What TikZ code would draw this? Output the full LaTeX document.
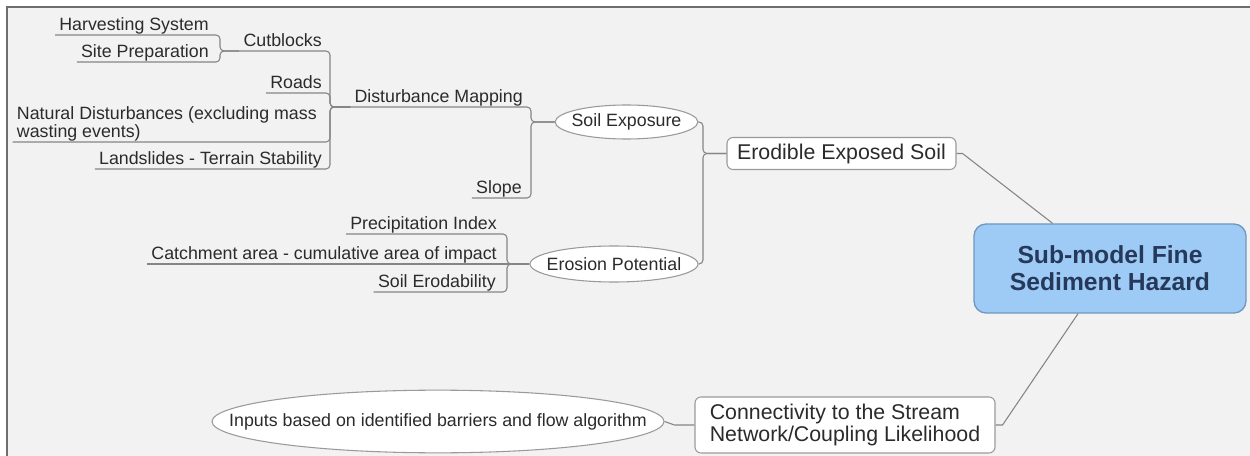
\documentclass[tikz,border=0pt]{standalone}
\usepackage{fontspec}
\setmainfont{Liberation Sans}
\usetikzlibrary{shapes.geometric,calc}

\definecolor{bgpaper}{HTML}{F2F2F2}
\definecolor{frameline}{HTML}{6E6E6E}
\definecolor{wiregray}{HTML}{858585}
\definecolor{ink}{HTML}{2B2B2B}
\definecolor{hubfill}{HTML}{9DCBF5}
\definecolor{hubedge}{HTML}{7097BF}
\definecolor{hubink}{HTML}{26395A}
\definecolor{boxedge}{HTML}{9A9A9A}

% text of an oval topic is centred without widening the oval
\newcommand{\ovaltext}[1]{\makebox[0pt]{#1}}

\begin{document}
\begin{tikzpicture}[x=0.75pt,y=-0.75pt,
  wire/.style={draw=wiregray,line width=0.8pt,rounded corners=3pt},
  leaf/.style={font=\fontsize{13.35}{13.5}\selectfont,text=ink,
    inner xsep=3pt,inner ysep=0.6pt,text depth=2.83pt,anchor=south east},
  oval/.style={ellipse,draw=boxedge,fill=white,line width=0.8pt,inner sep=0pt,
    font=\fontsize{13.35}{13.5}\selectfont,text=ink},
  card/.style={rectangle,rounded corners=4.5pt,draw=boxedge,fill=white,
    line width=0.8pt,inner sep=0pt,
    font=\fontsize{16}{16.5}\selectfont,text=ink},
  hub/.style={rectangle,rounded corners=9pt,draw=hubedge,fill=hubfill,
    line width=1pt,align=center,inner sep=0pt,
    font=\bfseries\fontsize{18.5}{20.25}\selectfont,text=hubink}]

% paper and frame
\useasboundingbox (0,0) rectangle (1250,456);
\fill[white] (0,0) rectangle (1250,456);
\fill[bgpaper] (7,7) rectangle (1250,456);
\draw[frameline,line width=1.3pt] (7,456) -- (7,7) -- (1250,7);

% leaf topics (underlined text)
\node[leaf] (harv) at (213,35) {Harvesting System};
\node[leaf] (site) at (213,62) {Site Preparation};
\node[leaf] (cut) at (326,51) {Cutblocks};
\node[leaf] (roads) at (326,93) {Roads};
\node[leaf,align=left] (natural) at (321,142) {Natural Disturbances (excluding mass\\wasting events)};
\node[leaf] (land) at (326,169) {Landslides - Terrain Stability};
\node[leaf] (dist) at (527,107) {Disturbance Mapping};
\node[leaf] (slope) at (526,198) {Slope};
\node[leaf] (precip) at (501,234) {Precipitation Index};
\node[leaf] (catch) at (501,264) {Catchment area - cumulative area of impact};
\node[leaf] (erod) at (500,292) {Soil Erodability};

% oval topics
\node[oval,minimum width=107pt,minimum height=25.5pt] (soil) at (626.5,122) {\ovaltext{Soil Exposure}};
\node[oval,minimum width=126pt,minimum height=27pt] (erosion) at (614,264) {\ovaltext{Erosion Potential}};
\node[oval,minimum width=339pt,minimum height=47pt] (inputs) at (438,421.5) {\ovaltext{Inputs based on identified barriers and flow algorithm}};

% boxed topics
\node[card,minimum width=171.75pt,minimum height=24pt] (exposed) at (841.5,153.5) {Erodible Exposed Soil};
\node[card,align=left,minimum width=225pt,minimum height=42pt] (coupling) at (845,425) {Connectivity to the Stream\\Network/Coupling Likelihood};

% central topic
\node[hub,minimum width=204pt,minimum height=66.75pt] (hub) at (1110,268.5) {Sub-model Fine\\Sediment Hazard};

% bracket junctions
\coordinate (jCut) at (220,51);
\coordinate (jDist) at (330,107);
\coordinate (jSoil) at (531,122);
\coordinate (jEros) at (507,264);
\coordinate (jExp) at (703,153.5);

% connectors
\draw[wire] (harv.south west) -- (harv.south -| jCut) -- (jCut) -- (cut.south west);
\draw[wire] (site.south west) -- (site.south -| jCut) -- (jCut) -- (cut.south west);

\draw[wire] (cut.south west) -- (cut.south -| jDist) -- (jDist) -- (dist.south west);
\draw[wire] (roads.south west) -- (roads.south -| jDist) -- (jDist) -- (dist.south west);
\draw[wire] (natural.south west) -- (natural.south -| jDist) -- (jDist) -- (dist.south west);
\draw[wire] (land.south west) -- (land.south -| jDist) -- (jDist) -- (dist.south west);

\draw[wire] (dist.south west) -- (dist.south -| jSoil) -- (jSoil) -- (soil.west);
\draw[wire] (slope.south west) -- (slope.south -| jSoil) -- (jSoil) -- (soil.west);

\draw[wire] (precip.south west) -- (precip.south -| jEros) -- (jEros) -- (erosion.west);
\draw[wire] (catch.south west) -- (erosion.west);
\draw[wire] (erod.south west) -- (erod.south -| jEros) -- (jEros) -- (erosion.west);

\draw[wire] (soil.east) -- (soil.east -| jExp) -- (jExp) -- (exposed.west);
\draw[wire] (erosion.east) -- (erosion.east -| jExp) -- (jExp) -- (exposed.west);

\draw[wire,sharp corners] (exposed.east) -- ++(6,0) -- ($(hub.north west)!0.29!(hub.north east)$);
\draw[wire,sharp corners] (coupling.east) -- ++(7,0) -- ($(hub.south west)!0.383!(hub.south east)$);
\draw[wire,sharp corners] (coupling.west) -- ++(-20,0) -- (inputs.east);
\end{tikzpicture}
\end{document}
